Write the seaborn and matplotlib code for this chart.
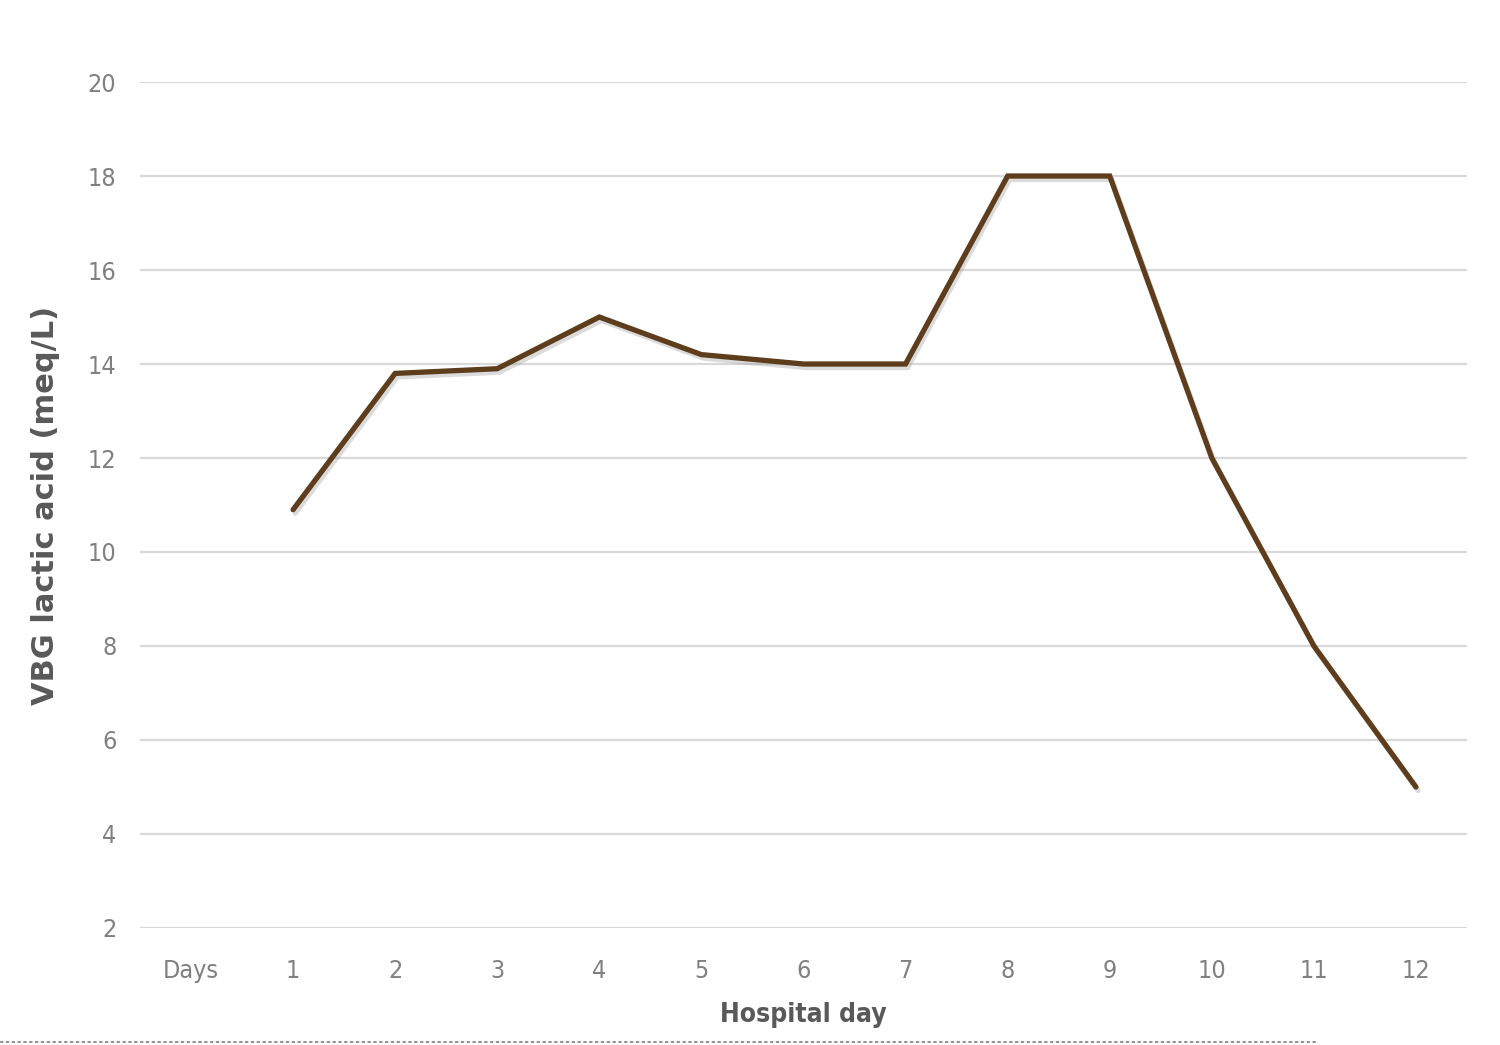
import matplotlib
matplotlib.use("Agg")
import matplotlib.pyplot as plt
import matplotlib.patheffects as pe
from matplotlib.lines import Line2D
import seaborn as sns
import numpy as np
import pandas as pd

categories = ["Days", "1", "2", "3", "4", "5", "6", "7", "8", "9", "10", "11", "12"]
lactic = [np.nan, 10.9, 13.8, 13.9, 15.0, 14.2, 14.0, 14.0, 18.0, 18.0, 12.0, 8.0, 5.0]
y_ticks = [2, 4, 6, 8, 10, 12, 14, 16, 18, 20]

sns.set_theme(style="white")
plt.rcParams['font.family'] = ['DejaVu Sans']
plt.rcParams['font.stretch'] = 'condensed'

df = pd.DataFrame({"pos": range(len(categories)), "value": lactic})

fig = plt.figure(figsize=(15, 10.45), dpi=100)
ax = fig.add_axes([0.0933, 0.112, 0.978 - 0.0933, 0.9215 - 0.112])

for t in y_ticks:
    ax.axhline(t, color="#d9d9d9", lw=1.6, zorder=0)

sns.lineplot(data=df, x="pos", y="value", ax=ax, color="#5e3d1c", lw=3.8,
             solid_joinstyle="miter",
             path_effects=[pe.SimpleLineShadow(offset=(1.5, -2.5), shadow_color="#999999", alpha=0.35),
                           pe.Normal()])

ax.set_xlim(-0.5, len(categories) - 0.5)
ax.set_ylim(y_ticks[0], y_ticks[-1])
ax.set_yticks(y_ticks)
ax.set_xticks(range(len(categories)))
ax.set_xticklabels(categories)
ax.tick_params(axis="both", length=0, labelsize=18, labelcolor="#808080")
ax.tick_params(axis="y", pad=17)
ax.tick_params(axis="x", pad=22)
for s in ax.spines.values():
    s.set_visible(False)

ax.set_xlabel("Hospital day", fontsize=19, fontweight="bold", color="#595959", labelpad=14)
ax.set_ylabel("VBG lactic acid (meq/L)", fontsize=22, fontweight="bold", color="#595959",
              fontstretch="normal", labelpad=20)

fig.add_artist(Line2D([0.0, 0.877], [1 - 1042 / 1045] * 2, transform=fig.transFigure,
                      color="#808080", lw=1.2, ls=(0, (2, 1.5))))

fig.savefig("out.png", dpi=100, facecolor="white")
